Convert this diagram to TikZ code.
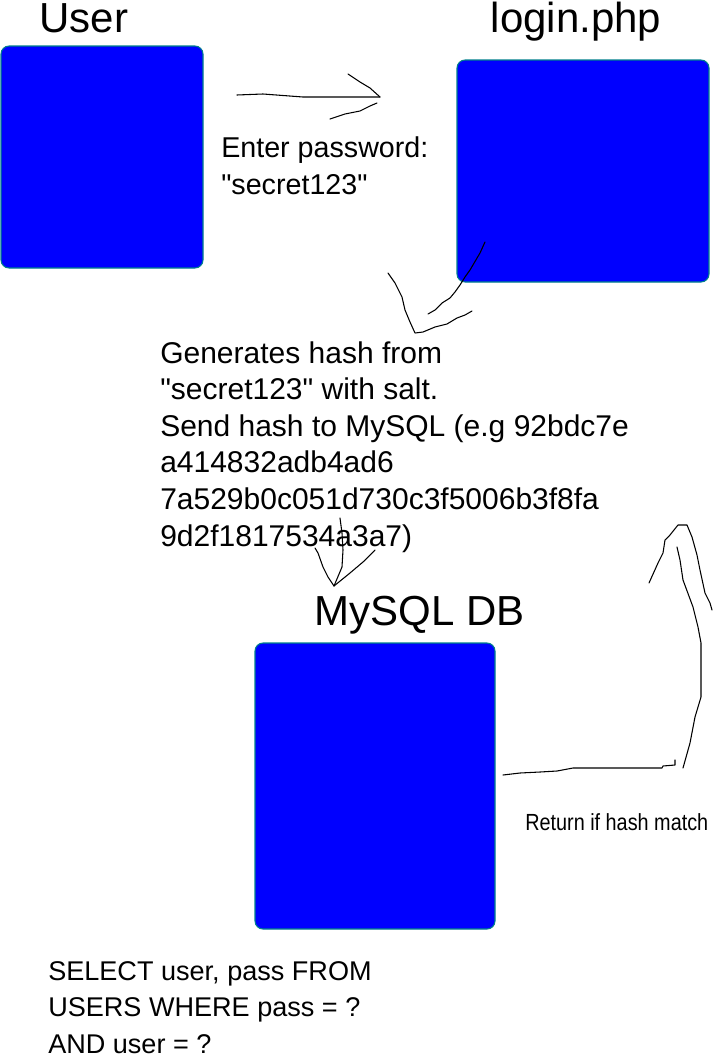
\documentclass[tikz,border=0pt]{standalone}
\usepackage{fontspec}
\setmainfont{Liberation Sans}
\definecolor{boxblue}{RGB}{0,0,255}
\definecolor{boxrim}{RGB}{0,128,140}
\tikzset{
  actor/.style={draw=boxrim, fill=boxblue, line width=0.8pt, rounded corners=6pt},
  title/.style={font=\fontsize{31.5}{36}\selectfont, inner sep=0pt, anchor=base},
  note/.style={font=\fontsize{21.5}{27.4}\selectfont, inner sep=0pt, anchor=base west, align=left},
  small/.style={font=\addfontfeature{FakeStretch=0.85}\fontsize{17.5}{21}\selectfont, inner sep=0pt, anchor=base west},
  scribble/.style={draw=black, line width=0.8pt, line join=round, line cap=round}
}
\begin{document}
\begin{tikzpicture}[x=0.75pt, y=-0.75pt]
    \useasboundingbox (0,0) rectangle (713,1057);

    % Boxes
    \draw[actor] (1,46) rectangle (203,268);
    \draw[actor] (457,60) rectangle (709,282);
    \draw[actor] (255,643) rectangle (495,929);

    % Titles
    \node[title] (user) at (84,32) {User};
    \node[title] (login) at (576,32) {login.php};
    \node[title] (mysql) at (420,625) {MySQL DB};

    % Notes (placed by their last line)
    \node[note] (enter) at (221,194) {Enter password:\\\textquotedbl secret123\textquotedbl};
    \node[note, font=\fontsize{22.5}{27.4}\selectfont] (hash) at (160,546) {Generates hash from\\\textquotedbl secret123\textquotedbl{} with salt.\\Send hash to MySQL (e.g 92bdc7e\\a414832adb4ad6\\7a529b0c051d730c3f5006b3f8fa\\9d2f1817534a3a7)};
    \node[small] (match) at (525,830) {Return if hash match};
    \node[note, font=\fontsize{20.3}{27.2}\selectfont] (query) at (48,1053) {SELECT user, pass FROM\\USERS WHERE pass = ?\\AND user = ?};

    % Arrow user -> login
    \coordinate (tipA) at (380,97);
    \draw[scribble] (237,95) -- (263,94) -- (303,97) -- (340,97) -- (tipA);
    \draw[scribble] (348,74) -- (360,82) -- (370,88) -- (tipA);
    \draw[scribble] (330,119) -- (345,114) -- (360,111) -- (370,106) -- (377,103);

    % Arrow login -> hash
    \coordinate (tipB) at (415,333);
    \draw[scribble] (485,242) -- (480,253) -- (470,270) -- (465,277) -- (460,285) -- (455,292)
        -- (450,298) -- (442,303) -- (435,310) -- (428,314);
    \draw[scribble] (388,273) -- (395,283) -- (402,297) -- (405,310) -- (410,322) -- (tipB)
        -- (423,332) -- (435,327) -- (447,324) -- (457,318) -- (465,315) -- (472,311);

    % Arrow hash -> mysql
    \coordinate (tipC) at (334,586);
    \draw[scribble] (315,548) -- (318,553) -- (323,567) -- (328,577) -- (tipC);
    \draw[scribble] (340,518) -- (342,533) -- (343,550) -- (342,567) -- (tipC);
    \draw[scribble] (375,550) -- (363,562) -- (350,573) -- (tipC);

    % Arrow mysql -> login
    \coordinate (tipD) at (682,525);
    \draw[scribble] (503,775) -- (520,773) -- (540,772) -- (557,771) -- (573,768) -- (620,768)
        -- (662,768) -- (663,766) -- (675,765) -- (675,760);
    \draw[scribble] (683,768) -- (690,743) -- (695,717) -- (701,697) -- (701,643) -- (698,627)
        -- (693,607) -- (683,580) -- (680,560) -- (677,547);
    \draw[scribble] (649,583) -- (658,563) -- (663,553) -- (665,540) -- (670,535) -- (678,525)
        -- (687,525) -- (692,537) -- (697,555) -- (700,570) -- (705,593) -- (710,603) -- (712,610);
\end{tikzpicture}
\end{document}
